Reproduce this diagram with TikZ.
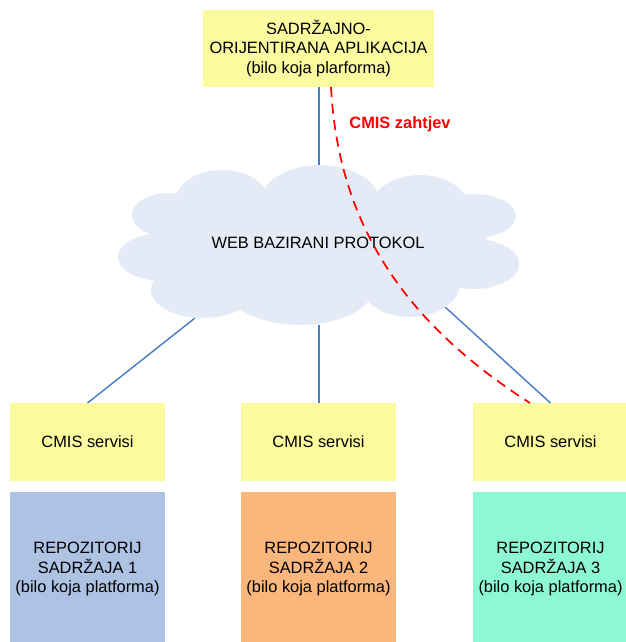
\documentclass[tikz,border=0pt]{standalone}
\usepackage{fontspec}
\setmainfont{Liberation Sans}
\definecolor{boxyellow}{HTML}{FBFA9F}
\definecolor{repoblue}{HTML}{AEC3E3}
\definecolor{repoorange}{HTML}{FBB77B}
\definecolor{repogreen}{HTML}{8DF9D4}
\definecolor{cloudfill}{HTML}{E5EBF6}
\definecolor{linkblue}{HTML}{4A7EC5}
\tikzset{
  px/.style={x=0.75pt,y=-0.75pt},
  txt/.style={font=\fontsize{12.3}{14.7}\selectfont, align=center, inner sep=0pt, outer sep=0pt},
  appbox/.style={txt, fill=boxyellow, minimum width=173.25pt, minimum height=57.75pt},
  cmisbox/.style={txt, fill=boxyellow, minimum width=116.25pt, minimum height=58.5pt},
  repobox/.style={txt, minimum width=116.25pt, minimum height=116.25pt},
  link/.style={draw=linkblue, line width=1.1pt},
  request/.style={draw=red, line width=1.3pt, dash pattern=on 7.5pt off 5pt},
  puff/.style={fill=cloudfill}
}
\begin{document}
\begin{tikzpicture}[px]
\useasboundingbox (0,0) rectangle (625,642);

% boxes
\node[appbox] (app) at (318.5,48.5) {SADRŽAJNO-\\ORIJENTIRANA APLIKACIJA\\(bilo koja plarforma)};
\node[cmisbox] (cmis1) at (87.5,442) {CMIS servisi};
\node[cmisbox] (cmis2) at (318.5,442) {CMIS servisi};
\node[cmisbox] (cmis3) at (550.5,442) {CMIS servisi};
\node[repobox, fill=repoblue] (repo1) at (87.5,569) {REPOZITORIJ\\SADRŽAJA 1\\(bilo koja platforma)};
\node[repobox, fill=repoorange] (repo2) at (318.5,569) {REPOZITORIJ\\SADRŽAJA 2\\(bilo koja platforma)};
\node[repobox, fill=repogreen] (repo3) at (550.5,569) {REPOZITORIJ\\SADRŽAJA 3\\(bilo koja platforma)};

% attachment points on the cloud outline
\coordinate (cloudtop) at (319,166);
\coordinate (cloudsw) at (195,318);
\coordinate (clouds) at (319,325);
\coordinate (cloudse) at (444,306);
\coordinate (appout) at (331,87);
\coordinate (cmis3in) at (530,403);

% links
\draw[link] (app.south -| cloudtop) -- (cloudtop);
\draw[link] (cloudsw) -- (cmis1.north);
\draw[link] (clouds) -- (cmis2.north -| clouds);
\draw[link] (cloudse) -- (cmis3.north);

% cloud
\fill[puff] (318,245) ellipse [x radius=170, y radius=55];
\fill[puff] (320,203) ellipse [x radius=60, y radius=38];
\fill[puff] (222,202) ellipse [x radius=47, y radius=32];
\fill[puff] (168,215) ellipse [x radius=36, y radius=22];
\fill[puff] (163,257) ellipse [x radius=45, y radius=24];
\fill[puff] (203,290) ellipse [x radius=52, y radius=28];
\fill[puff] (300,285) ellipse [x radius=75, y radius=40];
\fill[puff] (410,283) ellipse [x radius=50, y radius=34];
\fill[puff] (474,264) ellipse [x radius=45, y radius=25];
\fill[puff] (474,216) ellipse [x radius=42, y radius=22];
\fill[puff] (420,210) ellipse [x radius=50, y radius=35];
\node[txt] (web) at (318,243) {WEB BAZIRANI PROTOKOL};

% CMIS request path
\draw[request] (appout) .. controls (338,220) and (400,320) .. (cmis3in);
\node[txt, text=red, font=\fontsize{12.3}{14.7}\selectfont\bfseries] (req) at (400,124) {CMIS zahtjev};
\end{tikzpicture}
\end{document}
